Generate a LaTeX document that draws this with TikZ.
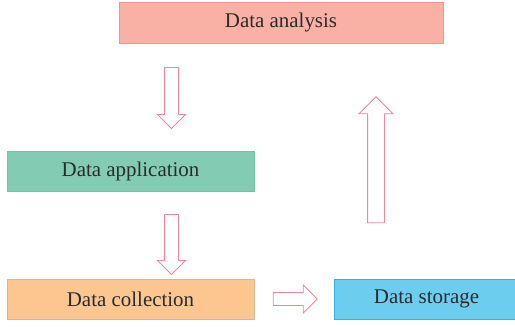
\documentclass[tikz,border=0pt]{standalone}
\usepackage{fontspec}
\setmainfont{Liberation Serif}
\usetikzlibrary{shapes.arrows}

\definecolor{anaFill}{HTML}{F9B0A5}
\definecolor{anaLine}{HTML}{F4938A}
\definecolor{appFill}{HTML}{84CBB3}
\definecolor{appLine}{HTML}{6FC4A8}
\definecolor{colFill}{HTML}{FBC690}
\definecolor{colLine}{HTML}{D8B690}
\definecolor{stoFill}{HTML}{6CCDEF}
\definecolor{stoLine}{HTML}{3AAFE0}
\definecolor{arrLine}{HTML}{EF86A0}
\definecolor{txt}{HTML}{2B2B2B}

\tikzset{
  stagebox/.style={draw, line width=0.9bp, inner sep=0pt, text=txt,
    font=\fontsize{21}{24}\selectfont},
  blockarrow/.style={single arrow, draw=arrLine, fill=white, line width=0.9bp,
    inner xsep=0pt, single arrow tip angle=90}
}

\begin{document}
\begin{tikzpicture}[x=1bp,y=-1bp]
            \clip (0,0) rectangle (515,326);
            \node[stagebox, fill=anaFill, draw=anaLine, minimum width=324bp, minimum height=41bp] (analysis) at (281,22.5) {Data analysis};
            \node[stagebox, fill=appFill, draw=appLine, minimum width=247bp, minimum height=40bp] (application) at (130.5,171) {Data application};
            \node[stagebox, fill=colFill, draw=colLine, minimum width=247bp, minimum height=40bp] (collection) at (130.5,299) {Data collection};
            \node[stagebox, fill=stoFill, draw=stoLine, minimum width=185bp, minimum height=40bp] (storage) at (426.5,299) {Data storage};

            % block arrows
            \node[blockarrow, rotate=-90, inner ysep=6.5bp, single arrow head extend=7bp, minimum height=61bp] (arrAnaApp) at (171.5,94.5) {};
            \node[blockarrow, rotate=-90, inner ysep=6.5bp, single arrow head extend=7bp, minimum height=60bp] (arrAppCol) at (171.5,241) {};
            \node[blockarrow, inner ysep=6bp, single arrow head extend=7.5bp, minimum height=44bp] (arrColSto) at (292,299) {};
            \node[blockarrow, rotate=90, inner ysep=8bp, single arrow head extend=8.5bp, minimum height=126bp] (arrStoAna) at (376,164) {};
          \end{tikzpicture}
\end{document}
